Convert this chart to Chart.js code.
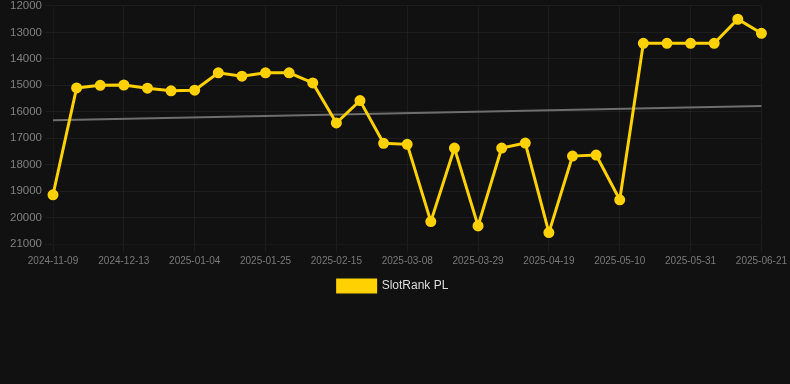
<!DOCTYPE html>
<html>
<head>
<meta charset="utf-8">
<script src="https://cdn.jsdelivr.net/npm/chart.js@4"></script>
<style>
  html, body { margin: 0; padding: 0; background: #111111; overflow: hidden; }
  #wrap { width: 790px; height: 306px; position: relative; top: -4px; }
</style>
</head>
<body>
<div id="wrap"><canvas id="rankChart"></canvas></div>
<script>
//DATA
const dates = [
    '2024-11-09', '2024-11-23', '2024-11-30', '2024-12-13', '2024-12-21', '2024-12-28',
    '2025-01-04', '2025-01-11', '2025-01-18', '2025-01-25', '2025-02-01', '2025-02-08',
    '2025-02-15', '2025-02-22', '2025-03-01', '2025-03-08', '2025-03-15', '2025-03-22',
    '2025-03-29', '2025-04-05', '2025-04-12', '2025-04-19', '2025-04-26', '2025-05-03',
    '2025-05-10', '2025-05-17', '2025-05-24', '2025-05-31', '2025-06-07', '2025-06-14',
    '2025-06-21'
];

const rankValues = [
    19140, 15100, 15000, 14990, 15110, 15210,
    15185, 14530, 14655, 14530, 14530, 14910,
    16425, 15580, 17195, 17233, 20153, 17373,
    20317, 17373, 17183, 20570, 17677, 17640,
    19330, 13415, 13415, 13415, 13415, 12505,
    13035
];

// trend line end points
const trendStart = 16323;
const trendEnd = 15780;
const trendValues = dates.map((d, i) => i === 0 ? trendStart : (i === dates.length - 1 ? trendEnd : null));

//CONFIG
const rankConfig = {
    type: 'line',
    data: {
        labels: dates,
        datasets: [{
            label: 'SlotRank PL',
            data: rankValues,
            borderColor: '#FFD100',
            backgroundColor: '#FFD100',
            borderWidth: 3,
            pointRadius: 4,
            pointBackgroundColor: '#FFD100',
            pointBorderColor: '#FFD100',
            tension: 0
        }, {
            label: 'Trend',
            data: trendValues,
            borderColor: '#6e6e6e',
            backgroundColor: '#6e6e6e',
            borderWidth: 2,
            pointRadius: 0,
            spanGaps: true
        }]
    },
    options: {
        maintainAspectRatio: false,
        responsive: true,
        animation: false,
        layout: { padding: { right: 4 } },
        scales: {
            x: {
                grid: { color: 'rgba(255,255,255,0.05)' },
                ticks: {
                    color: '#7a7a7a',
                    font: { size: 10, family: 'Liberation Sans, Arial, sans-serif' },
                    maxRotation: 0,
                    autoSkip: true,
                    callback: function (val, idx) {
                        return idx % 3 === 0 ? this.getLabelForValue(val) : null;
                    }
                }
            },
            y: {
                reverse: true,
                min: 12000,
                max: 21000,
                afterFit: axis => { axis.width = 53; },
                grid: { color: 'rgba(255,255,255,0.05)' },
                ticks: {
                    stepSize: 1000,
                    color: '#808080',
                    font: { size: 11.5, family: 'Liberation Sans, Arial, sans-serif' },
                    callback: val => String(val)
                }
            }
        },
        plugins: {
            legend: {
                position: 'bottom',
                labels: {
                    color: '#dddddd',
                    boxWidth: 38,
                    boxHeight: 12,
                    font: { size: 12, family: 'Liberation Sans, Arial, sans-serif' },
                    filter: item => item.text === 'SlotRank PL'
                }
            },
            tooltip: { enabled: false }
        }
    }
};

//RENDER
const rankChart = new Chart(document.getElementById('rankChart'), rankConfig);
</script>
</body>
</html>
